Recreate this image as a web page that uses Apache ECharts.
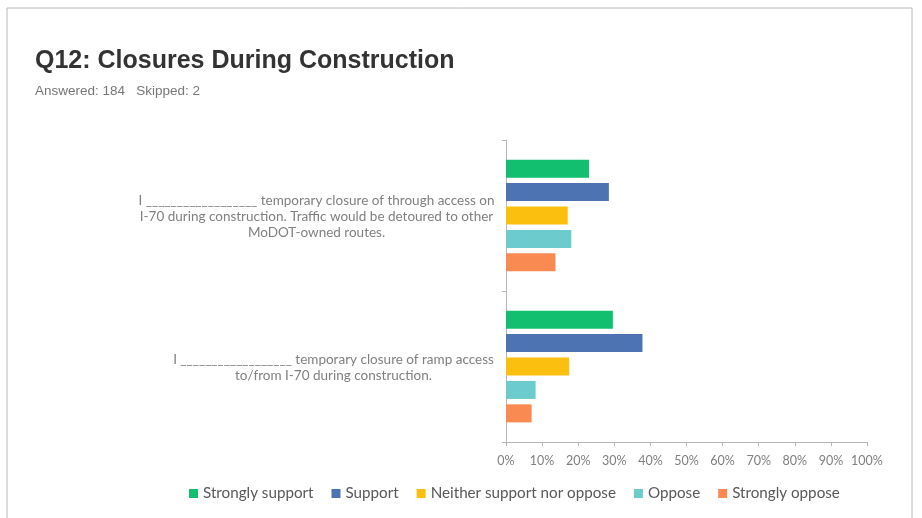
<!DOCTYPE html>
<html>
<head>
<meta charset="utf-8">
<title>Q12: Closures During Construction</title>
<script src="https://cdn.jsdelivr.net/npm/echarts@6/dist/echarts.min.js"></script>
<style>
    html, body { margin: 0; padding: 0; background: #fff; }
    #chart { width: 922px; height: 518px; }
</style>
</head>
<body>
<div id="chart"></div>
<script>
(function() {
    'use strict';
    // 数据
    var categories = ['through', 'ramp'];
    var catLines = {
        through: ['I __________________ temporary closure of through access on',
                  'I-70 during construction. Traffic would be detoured to other',
                  'MoDOT-owned routes.'],
        ramp: ['I __________________ temporary closure of ramp access',
               'to/from I-70 during construction.']
    };
    var seriesNames = ['Strongly support', 'Support', 'Neither support nor oppose', 'Oppose', 'Strongly oppose'];
    var strongSupport = [23.0, 29.6];
    var support = [28.5, 37.8];
    var neither = [17.1, 17.5];
    var oppose = [18.1, 8.2];
    var strongOppose = [13.7, 7.1];
    var colors = ['#12bf6f', '#4d73b3', '#fbbf10', '#6ccbcd', '#f98a52'];

    var allData = [strongSupport, support, neither, oppose, strongOppose];
    var series = [];
    for (var i = 0; i < seriesNames.length; i++) {
        series.push({
            name: seriesNames[i],
            type: 'bar',
            data: allData[i],
            barCategoryGap: '26%',
            barGap: '30%',
            itemStyle: { color: colors[i] }
        });
    }

    var labelFont = { fontFamily: 'Lato', fontSize: 13.5, color: '#808080', lineHeight: 16, align: 'center' };

    var myChart = echarts.init(document.getElementById('chart'));
    var option = {
        animation: false,
        color: colors,
        graphic: [{
            type: 'rect',
            shape: { x: 7, y: 8, width: 905, height: 530 },
            style: { fill: 'none', stroke: '#b8b8b8', lineWidth: 1 },
            z: -1
        }],
        title: {
            text: 'Q12: Closures During Construction',
            subtext: 'Answered: 184   Skipped: 2',
            left: 30,
            top: 44,
            itemGap: 10,
            textStyle: {
                fontFamily: 'Liberation Sans',
                fontWeight: 'bold',
                fontSize: 25,
                color: '#333'
            },
            subtextStyle: {
                fontFamily: 'Liberation Sans',
                fontSize: 13.5,
                color: '#777'
            }
        },
        legend: {
            left: 184,
            top: 481,
            itemWidth: 9,
            itemHeight: 9,
            itemGap: 18,
            icon: 'rect',
            textStyle: {
                fontFamily: 'Lato',
                fontSize: 15.2,
                color: '#595959'
            }
        },
        grid: {
            left: 506,
            right: 55,
            top: 140,
            bottom: 76,
            containLabel: false
        },
        xAxis: {
            type: 'value',
            min: 0,
            max: 100,
            interval: 10,
            axisLine: { show: true, lineStyle: { color: '#b5b5b5' } },
            axisTick: { show: true, length: 4, lineStyle: { color: '#b5b5b5' } },
            splitLine: { show: false },
            axisLabel: {
                formatter: '{value}%',
                fontFamily: 'Lato',
                fontSize: 12.5,
                color: '#7f7f7f',
                margin: 12
            }
        },
        yAxis: {
            type: 'category',
            inverse: true,
            data: categories,
            axisLine: { show: true, lineStyle: { color: '#b5b5b5' } },
            axisTick: { show: true, length: 4, lineStyle: { color: '#b5b5b5' } },
            axisLabel: {
                margin: 13,
                align: 'right',
                lineHeight: 16,
                formatter: function(val) {
                    var key = val === 'through' ? 'a' : 'b';
                    return catLines[val].map(function(s) {
                        return '{' + key + '|' + s + '}';
                    }).join('\n');
                },
                rich: {
                    a: echarts.util.extend({ width: 353, padding: [3, 0, 0, 0] }, labelFont),
                    b: echarts.util.extend({ width: 319, padding: [3, 0, 0, 0] }, labelFont)
                }
            }
        },
        series: series
    };
    myChart.setOption(option);
})();
</script>
</body>
</html>
